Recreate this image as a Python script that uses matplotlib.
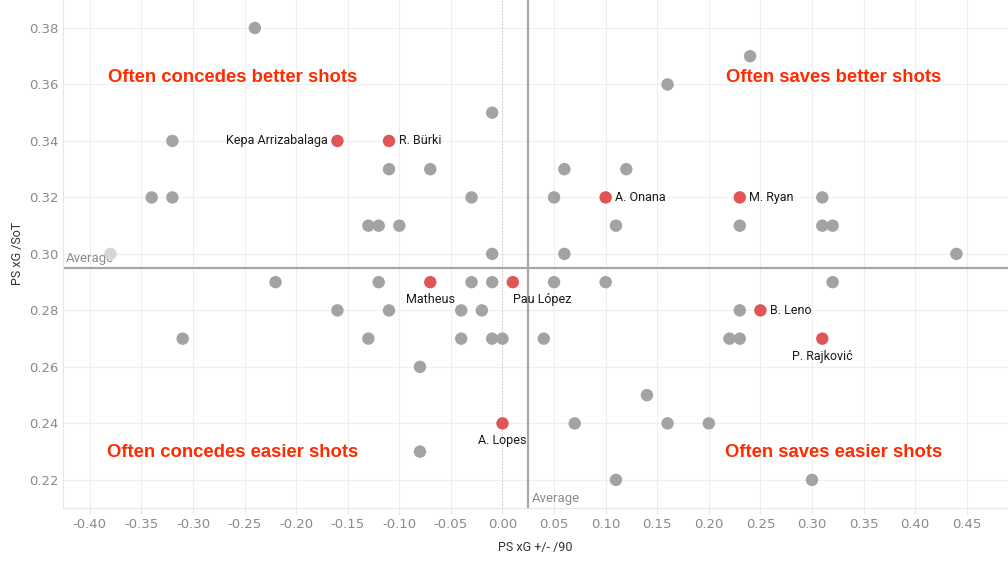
import matplotlib
matplotlib.use("Agg")
from matplotlib import pyplot as plt

# goalkeepers, PS xG +/- per 90 vs PS xG per shot on target
grey_x = [-0.24, 0.24, 0.16, -0.01, -0.32,
          -0.11, -0.07, 0.06, 0.12,
          -0.34, -0.32, -0.03, 0.05, 0.31,
          -0.13, -0.12, -0.10, 0.11, 0.23, 0.31, 0.32,
          -0.01, 0.06, 0.44,
          -0.22, -0.12, -0.03, -0.01, 0.05, 0.10, 0.32,
          -0.16, -0.11, -0.04, -0.02, 0.23,
          -0.31, -0.13, -0.04, -0.01, 0.00, 0.04, 0.22, 0.23,
          -0.08, 0.14, 0.07, 0.16, 0.20, -0.08, 0.11, 0.30]
grey_y = [0.38, 0.37, 0.36, 0.35, 0.34,
          0.33, 0.33, 0.33, 0.33,
          0.32, 0.32, 0.32, 0.32, 0.32,
          0.31, 0.31, 0.31, 0.31, 0.31, 0.31, 0.31,
          0.30, 0.30, 0.30,
          0.29, 0.29, 0.29, 0.29, 0.29, 0.29, 0.29,
          0.28, 0.28, 0.28, 0.28, 0.28,
          0.27, 0.27, 0.27, 0.27, 0.27, 0.27, 0.27, 0.27,
          0.26, 0.25, 0.24, 0.24, 0.24, 0.23, 0.22, 0.22]
faded_x = [-0.38]
faded_y = [0.30]

names = ["Kepa Arrizabalaga", "R. Bürki", "A. Onana", "M. Ryan", "Matheus",
         "Pau López", "B. Leno", "P. Rajković", "A. Lopes"]
red_x = [-0.16, -0.11, 0.10, 0.23, -0.07, 0.01, 0.25, 0.31, 0.00]
red_y = [0.34, 0.34, 0.32, 0.32, 0.29, 0.29, 0.28, 0.27, 0.24]

avg_x = 0.025
avg_y = 0.295

xticks = [-0.40, -0.35, -0.30, -0.25, -0.20, -0.15, -0.10, -0.05, 0.00,
          0.05, 0.10, 0.15, 0.20, 0.25, 0.30, 0.35, 0.40, 0.45]
yticks = [0.22, 0.24, 0.26, 0.28, 0.30, 0.32, 0.34, 0.36, 0.38]

quad_labels = ["Often concedes better shots", "Often saves better shots",
               "Often concedes easier shots", "Often saves easier shots"]

fig = plt.figure(figsize=(10.08, 5.63), dpi=100)
ax = fig.add_axes([0.0625, 0.098, 0.9375, 0.902])

ax.set_xlim(-0.426, 0.49)
ax.set_ylim(0.2101, 0.3899)
ax.set_xticks(xticks)
ax.set_yticks(yticks)
ax.set_xticklabels(["%.2f" % t for t in xticks])
ax.set_yticklabels(["%.2f" % t for t in yticks])
ax.tick_params(colors="#e6e6e6", labelcolor="#8a8a8a", labelsize=9.5, length=4, width=0.8)
ax.tick_params(axis="y", length=0)
ax.grid(True, color="#efefef", linewidth=0.8)
ax.set_axisbelow(True)
for s in ["top", "right"]:
    ax.spines[s].set_visible(False)
for s in ["left", "bottom"]:
    ax.spines[s].set_color("#e6e6e6")

ax.axvline(0, color="#c8c8c8", linestyle=(0, (1, 2)), linewidth=0.8, zorder=1)
ax.axvline(avg_x, color="#a6a6a6", linewidth=1.6, zorder=1)
ax.axhline(avg_y, color="#a6a6a6", linewidth=1.6, zorder=1)
ax.text(-0.423, avg_y + 0.001, "Average", color="#8a8a8a", fontsize=9.5,
        ha="left", va="bottom", family="Roboto")
ax.text(avg_x + 0.003, 0.2112, "Average", color="#8a8a8a", fontsize=9.5,
        ha="left", va="bottom", family="Roboto")

ax.scatter(grey_x, grey_y, s=80, color="#a3a3a3", edgecolors="none", zorder=3)
ax.scatter(faded_x, faded_y, s=80, color="#d6d6d6", edgecolors="none", zorder=3)
ax.scatter(red_x, red_y, s=80, color="#e05556", edgecolors="none", zorder=4)

# label offsets (points) and alignment for the highlighted keepers
offs = [(-7, 0, "right", "center"), (7, 0, "left", "center"), (7, 0, "left", "center"),
        (7, 0, "left", "center"), (0, -8, "center", "top"), (0, -8, "left", "top"),
        (7, 0, "left", "center"), (0, -8, "center", "top"), (0, -8, "center", "top")]
for n, x, y, o in zip(names, red_x, red_y, offs):
    ax.annotate(n, (x, y), xytext=(o[0], o[1]), textcoords="offset points",
                ha=o[2], va=o[3], fontsize=9, color="#1a1a1a", family="Roboto", zorder=5)

quad_pos = [(0.18, 0.848), (0.815, 0.848), (0.18, 0.108), (0.815, 0.108)]
for t, p in zip(quad_labels, quad_pos):
    ax.text(p[0], p[1], t, transform=ax.transAxes, ha="center", va="center",
            fontsize=13.3, fontweight="bold", color="#ff2a00", family="Liberation Sans")

ax.set_xlabel("PS xG +/- /90", fontsize=9, color="#333333", family="Roboto", labelpad=7)
ax.set_ylabel("PS xG /SoT", fontsize=9, color="#333333", family="Roboto", labelpad=3)

fig.savefig("out.png", dpi=100)
